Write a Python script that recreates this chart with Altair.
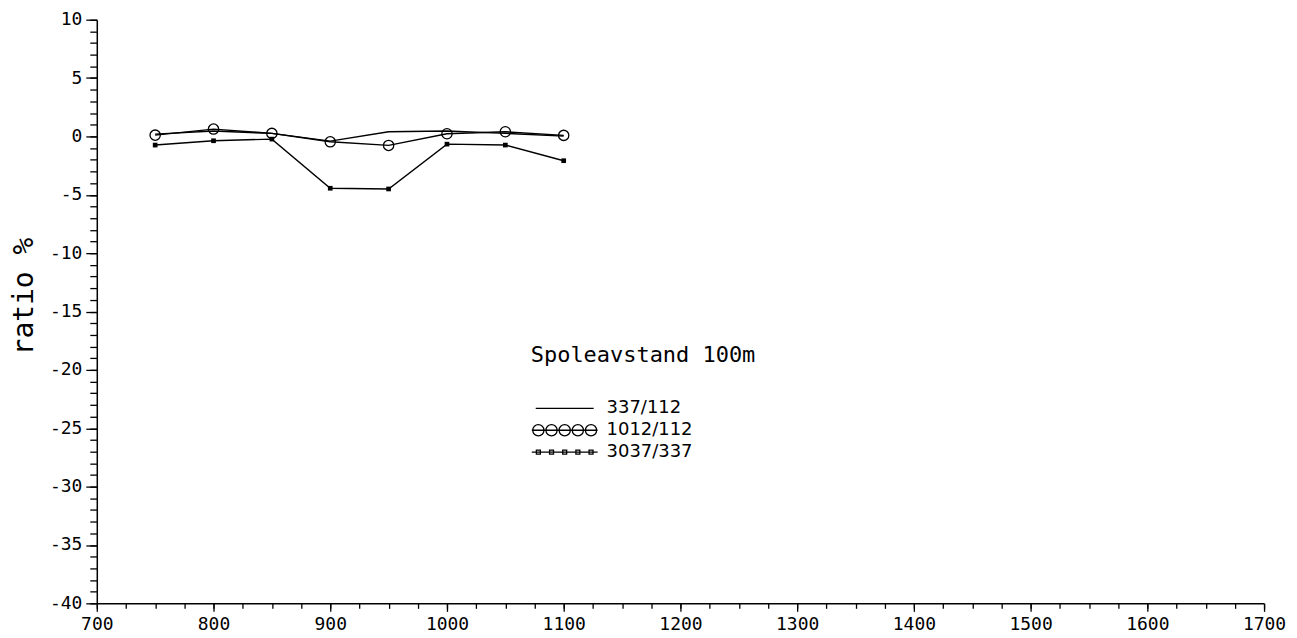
import altair as alt
import pandas as pd

# ---- data ----
positions = [750, 800, 850, 900, 950, 1000, 1050, 1100]
ratio_337_112 = [0.2, 0.46, 0.26, -0.4, 0.4, 0.46, 0.26, 0.03]
ratio_1012_112 = [0.11, 0.63, 0.26, -0.46, -0.77, 0.23, 0.4, 0.09]
ratio_3037_337 = [-0.74, -0.37, -0.23, -4.44, -4.5, -0.66, -0.74, -2.08]
series_names = ["337/112", "1012/112", "3037/337"]

x_major = list(range(700, 1701, 100))
x_minor = list(range(700, 1701, 25))
y_major = list(range(-40, 11, 5))
y_minor = list(range(-40, 11, 1))

legend_title = "Spoleavstand 100m"
y_title = "ratio %"

rows = []
for name, vals in zip(series_names, [ratio_337_112, ratio_1012_112, ratio_3037_337]):
    for p, v in zip(positions, vals):
        rows.append({"position": p, "ratio": v, "series": name})
df = pd.DataFrame(rows)

# ---- legend sample symbols (unit-space SVG paths) ----
def f(v):
    return f"{v:.3f}".rstrip("0").rstrip(".") if v != 0 else "0"

centers = [-0.8, -0.4, 0.0, 0.4, 0.8]
r = 0.17
line_sym = "M-0.88,0L0.88,0"
circ_sym = "M-1,0L1,0" + "".join(
    f"M{f(c - r)},0A{f(r)},{f(r)} 0 1,0 {f(c + r)},0A{f(r)},{f(r)} 0 1,0 {f(c - r)},0" for c in centers
)
h = 0.06
sq_sym = "M-1,0L1,0" + "".join(
    f"M{f(c - h)},{f(-h)}L{f(c + h)},{f(-h)}L{f(c + h)},{f(h)}L{f(c - h)},{f(h)}Z" for c in centers
)

FONT = "DejaVu Sans Mono"

x_scale = alt.Scale(domain=[700, 1700], nice=False, zero=False)
y_scale = alt.Scale(domain=[-40, 10], nice=False, zero=False)

x_axis_major = alt.Axis(
    values=x_major, orient="bottom", tickSize=8, tickColor="black", tickWidth=1.3,
    domainColor="black", domainWidth=1.5, labelFont=FONT, labelFontSize=18,
    labelColor="black", labelPadding=4, labelFlush=False, labelOverlap=False,
    labelExpr="'' + datum.value", grid=False, title=None,
)
y_axis_major = alt.Axis(
    values=y_major, orient="left", tickSize=11, tickColor="black", tickWidth=1.3,
    domainColor="black", domainWidth=1.5, labelFont=FONT, labelFontSize=18,
    labelColor="black", labelPadding=4, labelFlush=False, labelOverlap=False,
    labelExpr="'' + datum.value", grid=False,
    title=y_title, titleFont=FONT, titleFontSize=28, titleFontWeight="normal",
    titleColor="black", titleX=-72, titleY=277, titleAngle=270,
    titleBaseline="middle", titleAlign="center",
)
x_axis_minor = alt.Axis(
    values=x_minor, orient="bottom", tickSize=5, tickColor="black", tickWidth=1.3,
    domain=False, labels=False, grid=False, title=None,
)
y_axis_minor = alt.Axis(
    values=y_minor, orient="left", tickSize=7, tickColor="black", tickWidth=1.3,
    domain=False, labels=False, grid=False, title=None,
)

base = alt.Chart(df)

legend_layer = base.transform_filter("false").mark_point(
    filled=False, size=4356, color="black", strokeWidth=1.3, opacity=1
).encode(
    x=alt.X("position:Q", scale=x_scale, axis=x_axis_minor),
    y=alt.Y("ratio:Q", scale=y_scale, axis=y_axis_minor),
    shape=alt.Shape(
        "series:N",
        scale=alt.Scale(domain=series_names, range=[line_sym, circ_sym, sq_sym]),
        legend=alt.Legend(
            title=legend_title, orient="none", legendX=435, legendY=326,
            symbolSize=4356, symbolStrokeWidth=1.3, symbolStrokeColor="black",
            symbolFillColor="transparent", symbolOffset=0, clipHeight=21,
            labelFont="DejaVu Sans", labelFontSize=18, labelColor="black", labelOffset=8,
            titleFont=FONT, titleFontSize=22, titleFontWeight="normal", titleColor="black",
            titleLimit=500, labelLimit=300,
            titlePadding=31, rowPadding=1, padding=0,
        ),
    ),
)

lines = base.mark_line(color="black", strokeWidth=1.4).encode(
    x=alt.X("position:Q", scale=x_scale, axis=x_axis_major),
    y=alt.Y("ratio:Q", scale=y_scale, axis=y_axis_major),
    detail="series:N",
)

circles = base.transform_filter(alt.datum.series == "1012/112").mark_point(
    shape="circle", filled=False, size=106, color="black", strokeWidth=1.3, opacity=1
).encode(
    x=alt.X("position:Q", scale=x_scale, axis=None),
    y=alt.Y("ratio:Q", scale=y_scale, axis=None),
)

squares = base.transform_filter(alt.datum.series == "3037/337").mark_square(
    filled=True, size=22, color="black", opacity=1
).encode(
    x=alt.X("position:Q", scale=x_scale, axis=None),
    y=alt.Y("ratio:Q", scale=y_scale, axis=None),
)

chart = (
    alt.layer(legend_layer, lines, circles, squares)
    .resolve_axis(x="independent", y="independent")
    .properties(
        width=1170,
        height=585,
        autosize=alt.AutoSizeParams(type="none"),
        padding={"left": 89, "top": 11, "right": 25, "bottom": 30},
        background="white",
    )
    .configure_view(stroke=None)
)

chart.save("out.html", embed_options={"renderer": "svg", "actions": False})
